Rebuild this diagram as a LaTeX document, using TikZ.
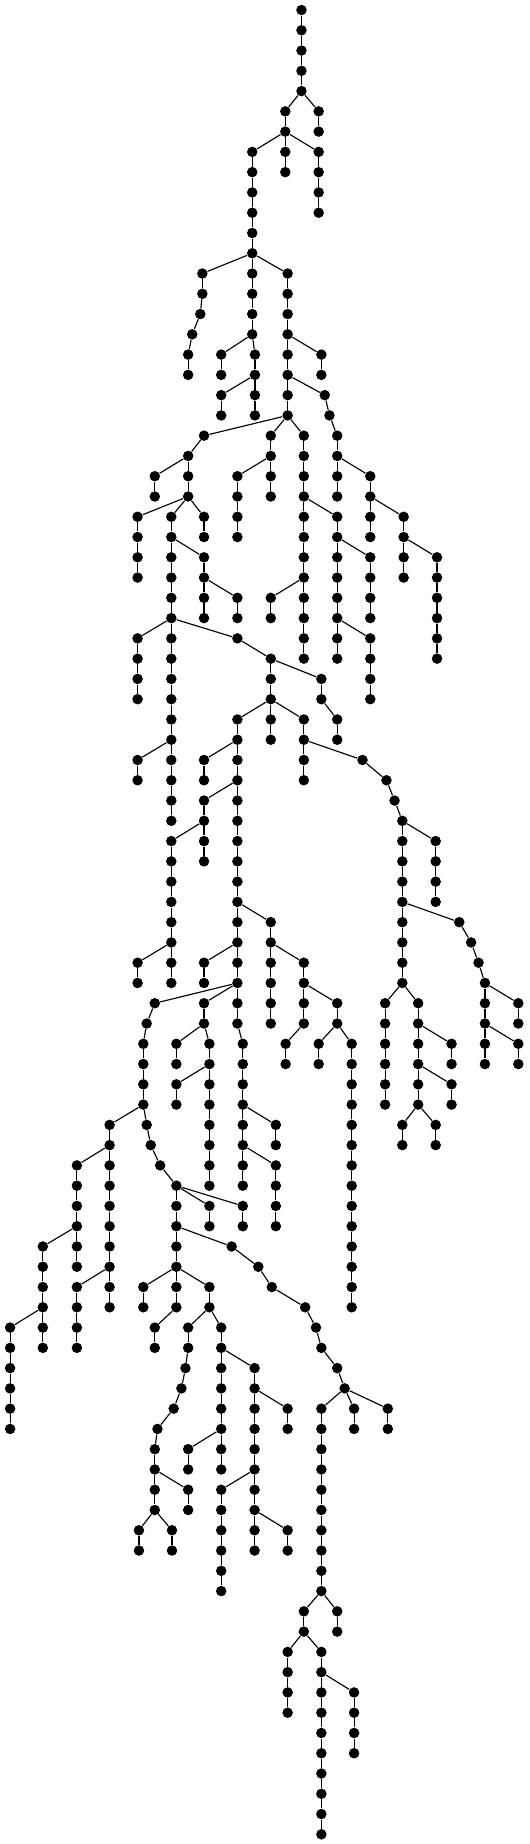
\documentclass[tikz,border=0pt]{standalone}
\usepackage{tikz}

% column (x) / first row / last row / parent of first node
\newcommand{\chainlist}{%
894/0/4/none, 846/5/8/4-894, 945/5/6/4-894, 748/7/16/6-846, 945/7/10/6-846,
600/13/14/12-748, 853/13/20/12-748, 594/15/15/14-600, 570/16/16/15-594,
558/17/18/16-570, 656/17/18/16-748, 756/17/20/16-748, 953/17/18/16-853,
656/19/20/18-756, 963/19/19/18-853, 977/20/20/19-963, 605/21/21/20-853,
803/21/24/20-853, 901/21/32/20-853, 1000/21/24/20-977, 558/22/24/21-605,
459/23/24/22-558, 704/23/26/22-803, 1098/23/26/22-1000, 408/25/28/24-558,
508/25/40/24-558, 605/25/26/24-558, 1000/25/32/24-901, 1197/25/28/24-1098,
605/27/30/26-508, 1098/27/30/26-1000, 1296/27/32/26-1197, 704/29/30/28-605,
803/29/30/28-901, 408/31/34/30-508, 704/31/31/30-508, 1098/31/34/30-1000,
803/32/36/31-704, 953/33/34/32-803, 704/35/50/34-803, 901/35/38/34-803,
1000/35/36/34-953, 408/37/38/36-508, 605/37/38/36-704, 1075/37/37/36-901,
1146/38/38/37-1075, 605/39/42/38-704, 1170/39/39/38-1146, 1193/40/48/39-1170,
508/41/48/40-605, 1292/41/44/40-1193, 803/45/50/44-704, 1362/45/45/44-1193,
1397/46/46/45-1362, 408/47/48/46-508, 605/47/48/46-704, 901/47/50/46-803,
1419/47/47/46-1397, 1438/48/52/47-1419, 459/49/49/48-704, 605/49/50/48-704,
1000/49/50/48-901, 1142/49/54/48-1193, 1240/49/54/48-1193, 1537/49/50/48-1438,
435/50/50/49-459, 425/51/54/50-435, 523/51/52/50-605, 621/51/58/50-605,
720/51/58/50-704, 847/51/52/50-901, 945/51/52/50-1000, 1043/51/64/50-1000,
1339/51/52/50-1240, 1537/51/52/50-1438, 523/53/54/52-621, 1339/53/54/52-1240,
325/55/64/54-425, 435/55/55/54-425, 818/55/56/54-720, 1193/55/56/54-1240,
1292/55/56/54-1240, 447/56/56/55-435, 228/57/62/56-325, 475/57/57/56-447,
818/57/60/56-720, 523/58/64/57-475, 621/59/60/58-523, 720/59/60/58-523,
127/61/66/60-228, 687/61/61/60-523, 766/62/62/61-687, 228/63/66/62-325,
425/63/64/62-523, 621/63/64/62-523, 806/63/63/62-766, 905/64/64/63-806,
30/65/70/64-127, 459/65/66/64-523, 558/65/66/64-621, 656/65/72/64-621,
937/65/65/64-905, 953/66/66/65-937, 550/67/67/66-558, 755/67/76/66-656,
1000/67/67/66-953, 538/68/68/67-550, 1022/68/68/67-1000, 515/69/69/68-538,
853/69/70/68-755, 953/69/78/68-1022, 1050/69/70/68-1022, 1150/69/70/68-1022,
467/70/70/69-515, 459/71/74/70-467, 558/71/72/70-656, 558/73/74/72-459,
656/73/78/72-755, 412/75/76/74-459, 510/75/76/74-459, 853/75/76/74-755,
901/79/80/78-953, 1000/79/80/78-953, 853/81/84/80-901, 953/81/90/80-901,
1050/83/86/82-953}

\begin{document}
\begin{tikzpicture}[x=0.006745cm, y=-0.4054cm,
  vertex/.style={circle,fill=black,inner sep=0pt,minimum size=0.21cm},
  edge/.style={line width=0.65pt}]
  \useasboundingbox (0,-0.4933) rectangle (1571.5,90.478);

  \foreach \x/\a/\b/\p in \chainlist {
    \foreach \r in {\a,...,\b} {
      \pgfmathtruncatemacro{\pr}{\r-1}
      \ifnum\r=\a \edef\prev{\p}\else \edef\prev{\pr-\x}\fi
      \node[vertex] (n\r-\x) at (\x,\r) {};
      \ifnum\r>0 \draw[edge] (n\prev) -- (n\r-\x); \fi
    }
  }
\end{tikzpicture}
\end{document}
